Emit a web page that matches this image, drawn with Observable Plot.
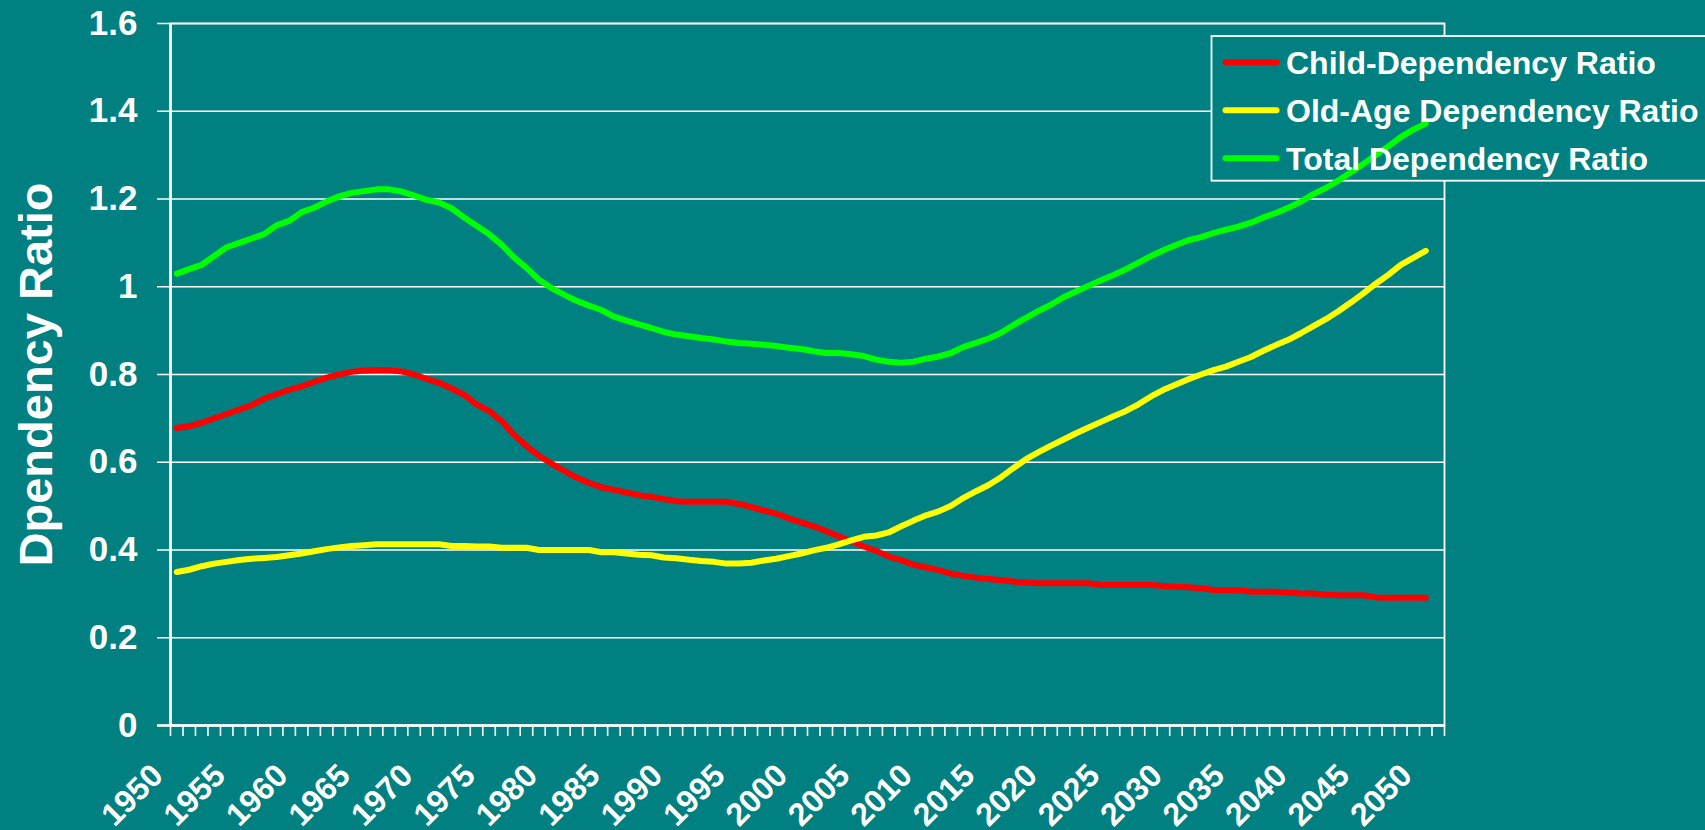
<!DOCTYPE html>
<html><head><meta charset="utf-8">
<script src="https://cdn.jsdelivr.net/npm/d3@7"></script>
<script src="https://cdn.jsdelivr.net/npm/@observablehq/plot@0.6"></script>
<style>
html,body{margin:0;padding:0;background:#008080;}
#chart{width:1705px;height:830px;overflow:hidden;}
</style></head><body><div id="chart"></div>
<script>
// ---- data ----
const years = d3.range(1950, 2051);
const childRatio = [
0.678,0.682,0.69,0.70,0.71,0.72,0.73,0.745,0.755,0.765,
0.773,0.783,0.793,0.80,0.806,0.809,0.81,0.81,0.807,0.80,
0.79,0.781,0.768,0.754,0.732,0.717,0.694,0.663,0.637,0.615,
0.597,0.581,0.565,0.553,0.543,0.537,0.531,0.525,0.521,0.516,
0.511,0.51,0.51,0.51,0.51,0.505,0.498,0.49,0.483,0.472,
0.463,0.454,0.443,0.431,0.42,0.408,0.398,0.385,0.377,0.366,
0.36,0.354,0.346,0.341,0.337,0.334,0.331,0.328,0.326,0.324,
0.324,0.324,0.324,0.324,0.32,0.32,0.32,0.32,0.32,0.318,
0.316,0.315,0.313,0.309,0.309,0.309,0.305,0.305,0.305,0.303,
0.301,0.301,0.298,0.297,0.297,0.297,0.292,0.291,0.291,0.291,
0.291];
const oldAgeRatio = [
0.35,0.355,0.363,0.369,0.373,0.377,0.38,0.382,0.384,0.388,
0.392,0.397,0.402,0.406,0.409,0.411,0.413,0.413,0.413,0.413,
0.413,0.413,0.409,0.409,0.408,0.408,0.405,0.405,0.405,0.40,
0.40,0.40,0.40,0.40,0.395,0.395,0.392,0.389,0.388,0.383,
0.381,0.378,0.375,0.373,0.369,0.369,0.371,0.376,0.38,0.386,
0.392,0.399,0.405,0.413,0.422,0.43,0.433,0.44,0.454,0.467,
0.479,0.488,0.501,0.519,0.534,0.548,0.566,0.587,0.607,0.623,
0.638,0.652,0.666,0.679,0.692,0.705,0.717,0.732,0.75,0.765,
0.777,0.789,0.80,0.81,0.818,0.829,0.84,0.854,0.867,0.879,
0.894,0.91,0.926,0.944,0.964,0.985,1.007,1.027,1.05,1.066,
1.082];
const totalRatio = [
1.03,1.04,1.05,1.07,1.09,1.10,1.11,1.12,1.14,1.15,
1.17,1.18,1.194,1.206,1.214,1.218,1.222,1.222,1.217,1.208,
1.198,1.192,1.179,1.158,1.139,1.12,1.096,1.067,1.043,1.016,
0.997,0.982,0.968,0.957,0.947,0.932,0.923,0.914,0.906,0.897,
0.891,0.887,0.883,0.88,0.875,0.872,0.87,0.868,0.865,0.861,
0.858,0.853,0.849,0.849,0.846,0.842,0.834,0.829,0.827,0.829,
0.836,0.841,0.849,0.863,0.872,0.882,0.895,0.913,0.929,0.945,
0.959,0.976,0.989,1.002,1.015,1.027,1.04,1.055,1.07,1.083,
1.095,1.106,1.113,1.122,1.13,1.137,1.146,1.158,1.168,1.18,
1.194,1.211,1.225,1.242,1.261,1.28,1.30,1.32,1.341,1.358,
1.372];
const seriesNames = ["Child-Dependency Ratio", "Old-Age Dependency Ratio", "Total Dependency Ratio"];
const seriesColors = ["#FF0000", "#FFFF00", "#00FF00"];
const yTicks = [0, 0.2, 0.4, 0.6, 0.8, 1, 1.2, 1.4, 1.6];
const xTickLabels = ["1950","1955","1960","1965","1970","1975","1980","1985","1990","1995",
  "2000","2005","2010","2015","2020","2025","2030","2035","2040","2045","2050"];
const yTitle = "Dpendency Ratio";

// ---- chart ----
const font = "'Liberation Sans', Arial, Helvetica, sans-serif";
const W = 1705, H = 830, mL = 170, mR = 261, mT = 23, mB = 105;
const rows = vals => years.map((yr, i) => ({year: yr, value: vals[i]}));
const xBounds = d3.range(years[0] - 0.5, years[years.length - 1] + 1.6, 1); // category boundaries (incl. one empty slot)
const seriesValues = [childRatio, oldAgeRatio, totalRatio];

const svg = Plot.plot({
  width: W, height: H,
  marginLeft: mL, marginRight: mR, marginTop: mT, marginBottom: mB,
  style: {background: "#008080", color: "white", fontFamily: font},
  x: {domain: [xBounds[0], xBounds[xBounds.length - 1]], axis: null},
  y: {domain: [0, 1.6], axis: null},
  marks: [
    Plot.ruleY(yTicks, {stroke: "white", strokeWidth: 1.6, insetLeft: -13}),
    Plot.frame({stroke: "white", strokeWidth: 1.8}),
    Plot.ruleX([xBounds[0]], {stroke: "white", strokeWidth: 2.6}),
    Plot.ruleY([0], {stroke: "white", strokeWidth: 2.4, insetLeft: -13}),
    Plot.ruleX(xBounds, {x: d => d, stroke: "white", strokeWidth: 1.6, insetTop: H - mT - mB, insetBottom: -11}),
    Plot.text(yTicks, {y: d => d, text: d => String(d), frameAnchor: "left", dx: -33, textAnchor: "end",
      fontSize: 35, fontWeight: "bold", fill: "white"}),
    Plot.text(xTickLabels, {x: d => +d, text: d => d, frameAnchor: "bottom", rotate: -45, textAnchor: "end",
      lineAnchor: "bottom", dx: -12, dy: 52, fontSize: 32, fontWeight: "bold", fill: "white"}),
    Plot.text([yTitle], {text: d => d, frameAnchor: "left", dx: -119, rotate: -90, textAnchor: "middle",
      lineAnchor: "bottom", fontSize: 47, fontWeight: "bold", fill: "white"}),
    ...seriesValues.map((vals, i) => Plot.line(rows(vals), {x: "year", y: "value", stroke: seriesColors[i],
      strokeWidth: 6, strokeLinecap: "round", strokeLinejoin: "round"}))
  ]
});

// ---- legend (box sits under the lines, entries above them) ----
const ns = "http://www.w3.org/2000/svg";
const firstLine = svg.querySelector('g[aria-label="line"]');
const box = document.createElementNS(ns, "rect");
box.setAttribute("x", 1211.5); box.setAttribute("y", 36);
box.setAttribute("width", 600); box.setAttribute("height", 144.7);
box.setAttribute("fill", "#008080"); box.setAttribute("stroke", "white"); box.setAttribute("stroke-width", 1.8);
firstLine.parentNode.insertBefore(box, firstLine);

const leg = d3.select(svg).append("g")
  .attr("font-family", font).attr("font-weight", "bold").attr("font-size", 32).attr("text-anchor", "start");
seriesNames.forEach((name, i) => {
  const cy = 62.3 + i * 48;
  leg.append("line").attr("x1", 1225.5).attr("x2", 1276.5).attr("y1", cy).attr("y2", cy)
    .attr("stroke", seriesColors[i]).attr("stroke-width", 6).attr("stroke-linecap", "round");
  leg.append("text").attr("x", 1286).attr("y", cy + 11.8).attr("fill", "white")
    .attr("text-anchor", "start").text(name);
});

document.getElementById("chart").appendChild(svg);
</script>
</body></html>
